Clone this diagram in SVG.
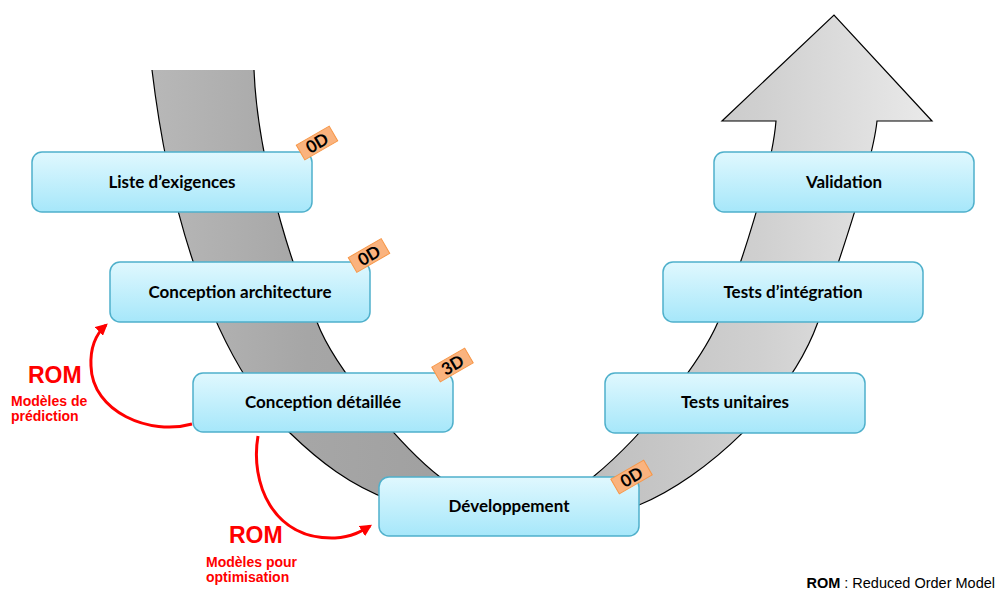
<svg xmlns="http://www.w3.org/2000/svg" width="996" height="590" viewBox="0 0 996 590">
<defs>
<linearGradient id="gBand" gradientUnits="userSpaceOnUse" x1="150" y1="0" x2="935" y2="0">
<stop offset="0" stop-color="#b8b8b8"/>
<stop offset="0.2" stop-color="#a6a6a6"/>
<stop offset="0.38" stop-color="#a0a0a0"/>
<stop offset="0.6" stop-color="#c2c2c2"/>
<stop offset="0.78" stop-color="#d0d0d0"/>
<stop offset="1" stop-color="#eaeaea"/>
</linearGradient>
<linearGradient id="gBox" x1="0" y1="0" x2="0" y2="1">
<stop offset="0" stop-color="#e0f8fe"/>
<stop offset="1" stop-color="#a6e7fa"/>
</linearGradient>
<marker id="arr" viewBox="0 0 10 10" refX="8" refY="5" markerWidth="4" markerHeight="4" orient="auto" markerUnits="strokeWidth">
<path d="M0,0 L10,5 L0,10 Z" fill="#ff0000"/>
</marker>
<style>
.box{fill:url(#gBox);stroke:#4fb0cb;stroke-width:1.5}
.lbl{font-family:Lato,"Open Sans","Liberation Sans",sans-serif;font-weight:bold;font-size:17px;fill:#000;text-anchor:middle}
.badge{fill:#fab37e;stroke:#f79646;stroke-width:1}
.btxt{font-family:Lato,"Open Sans","Liberation Sans",sans-serif;font-weight:bold;font-size:17px;fill:#000;text-anchor:middle}
.red{fill:none;stroke:#ff0000;stroke-width:3}
.rom{font-family:"Liberation Sans",Arial,sans-serif;font-weight:bold;fill:#ff0000}
</style>
</defs>
<g id="band">
<path d="M152,70 C170,220 215,360 290,433 C320,462 350,485 390,500 C460,525 570,530 639,505 C705,478 790,400 818,322 C830,287 872,170 877,121 L932,121 L834,15 L722,121 L776,121 C772,170 740,270 718,322 C703,357 650,430 593,477 C555,505 475,505 440,477 C405,450 335,370 317,322 C300,290 258,170 254,70" fill="url(#gBand)" stroke="#000" stroke-width="1.2"/>
</g>
<g id="connectors">
<path class="red" d="M192,424 C150,436 92,412 91,366 C90,346 96,334 106,325" marker-end="url(#arr)"/>
<path class="red" d="M258,436 C250,482 272,540 335,538 C352,537 362,531 370,526" marker-end="url(#arr)"/>
</g>
<g id="n1"><rect class="box" x="32" y="152" width="280" height="60" rx="10"/><text class="lbl" x="172" y="188">Liste d’exigences</text></g>
<g id="n2"><rect class="box" x="110" y="262" width="260" height="60" rx="10"/><text class="lbl" x="240" y="298">Conception architecture</text></g>
<g id="n3"><rect class="box" x="193" y="373" width="260" height="59" rx="10"/><text class="lbl" x="323" y="408">Conception détaillée</text></g>
<g id="n4"><rect class="box" x="379" y="477" width="260" height="59" rx="10"/><text class="lbl" x="509" y="512">Développement</text></g>
<g id="n5"><rect class="box" x="605" y="373" width="260" height="60" rx="10"/><text class="lbl" x="735" y="408">Tests unitaires</text></g>
<g id="n6"><rect class="box" x="663" y="262" width="260" height="60" rx="10"/><text class="lbl" x="793" y="298">Tests d’intégration</text></g>
<g id="n7"><rect class="box" x="714" y="152" width="260" height="60" rx="10"/><text class="lbl" x="844" y="188">Validation</text></g>
<g id="b1" transform="translate(317,143) rotate(-30)"><rect class="badge" x="-19" y="-8.5" width="38" height="17"/><text class="btxt" x="0" y="6">0D</text></g>
<g id="b2" transform="translate(369,255.5) rotate(-30)"><rect class="badge" x="-19" y="-8.5" width="38" height="17"/><text class="btxt" x="0" y="6">0D</text></g>
<g id="b3" transform="translate(452.5,365) rotate(-30)"><rect class="badge" x="-19" y="-8.5" width="38" height="17"/><text class="btxt" x="0" y="6">3D</text></g>
<g id="b4" transform="translate(631.5,477) rotate(-30)"><rect class="badge" x="-19" y="-8.5" width="38" height="17"/><text class="btxt" x="0" y="6">0D</text></g>
<g id="rom1">
<text class="rom" x="28" y="383" font-size="23">ROM</text>
<text class="rom" x="11" y="406" font-size="14">Modèles de</text>
<text class="rom" x="11" y="421" font-size="14">prédiction</text>
</g>
<g id="rom2">
<text class="rom" x="229" y="543" font-size="23">ROM</text>
<text class="rom" x="206" y="567" font-size="14">Modèles pour</text>
<text class="rom" x="206" y="582" font-size="14">optimisation</text>
</g>
<g id="legend">
<text x="995" y="588" text-anchor="end" font-family="'Liberation Sans',Arial,sans-serif" font-size="14.5" fill="#000"><tspan font-weight="bold">ROM</tspan> : Reduced Order Model</text>
</g>
</svg>
